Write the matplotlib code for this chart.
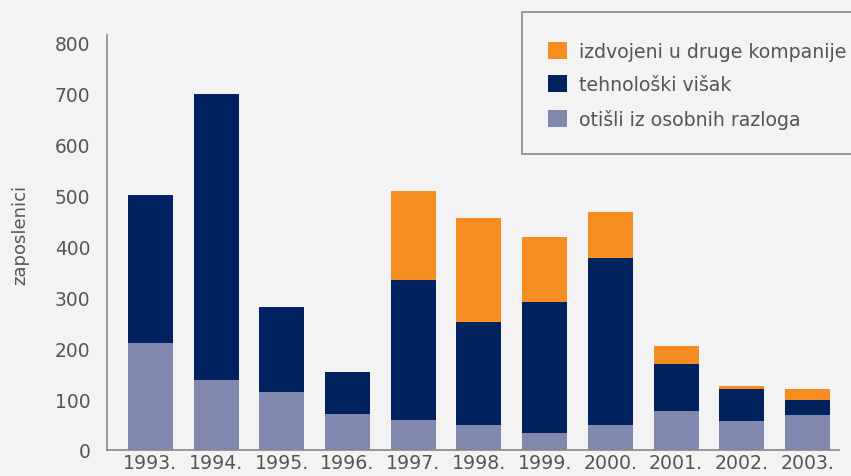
import matplotlib
matplotlib.use("Agg")
import matplotlib.pyplot as plt
from matplotlib.patches import Rectangle, Patch
import numpy as np

years = ["1993.", "1994.", "1995.", "1996.", "1997.", "1998.", "1999.",
         "2000.", "2001.", "2002.", "2003."]
osobni = [210, 138, 113, 70, 58, 50, 34, 50, 77, 56, 68]
visak = [290, 562, 168, 84, 276, 202, 257, 327, 91, 63, 31]
izdvojeni = [0, 0, 0, 0, 175, 204, 128, 90, 37, 6, 20]

labels = ["izdvojeni u druge kompanije", "tehnološki višak", "otišli iz osobnih razloga"]
c_orange = "#F68D20"
c_navy = "#00235F"
c_purple = "#8088AE"
bg = "#F3F3F3"
txt = "#555555"

plt.rcParams["font.family"] = ["DejaVu Sans"]

W, H = 851, 477
fig = plt.figure(figsize=(W / 100, H / 100), dpi=100, facecolor=bg)
ax = fig.add_axes([107 / W, 1 - 451 / H, (839 - 107) / W, (451 - 36) / H])
ax.set_facecolor(bg)

x = np.arange(len(years))
bw = 0.685
ax.bar(x, osobni, bw, color=c_purple, zorder=2)
ax.bar(x, visak, bw, bottom=osobni, color=c_navy, zorder=2)
bottom2 = np.array(osobni) + np.array(visak)
ax.bar(x, izdvojeni, bw, bottom=bottom2, color=c_orange, zorder=2)

ax.set_xlim(-0.66, 10.48)
ax.set_ylim(0, 815)
ax.set_yticks(range(0, 801, 100))
ax.set_xticks(x)
ax.set_xticklabels(years)
ax.tick_params(axis="both", length=0, colors=txt)
ax.tick_params(axis="y", pad=12, labelsize=13.4)
ax.tick_params(axis="x", pad=2.5, labelsize=13.6)
for s in ["top", "right"]:
    ax.spines[s].set_visible(False)
for s in ["left", "bottom"]:
    ax.spines[s].set_color("#888888")
    ax.spines[s].set_linewidth(1.2)

fig.text(20 / W, 1 - 235 / H, "zaposlenici", rotation=90, ha="center", va="center",
         fontsize=13, color=txt)

# legend frame
fig.patches.append(Rectangle((522 / W, 1 - 155 / H), (W - 522 + 5) / W, (155 - 13) / H,
                             transform=fig.transFigure, facecolor=bg,
                             edgecolor="#888888", linewidth=1.2, zorder=5))
handles = [Patch(facecolor=c_orange), Patch(facecolor=c_navy), Patch(facecolor=c_purple)]
leg = fig.legend(handles, labels, loc="upper left",
                 bbox_to_anchor=(548 / W, 1 - 43 / H), frameon=False,
                 fontsize=13.6, labelcolor=txt, handlelength=1.0, handleheight=1.0,
                 handletextpad=0.63, labelspacing=0.76, borderpad=0, borderaxespad=0)
leg.set_zorder(6)

fig.savefig("out.png", dpi=100, facecolor=bg)
